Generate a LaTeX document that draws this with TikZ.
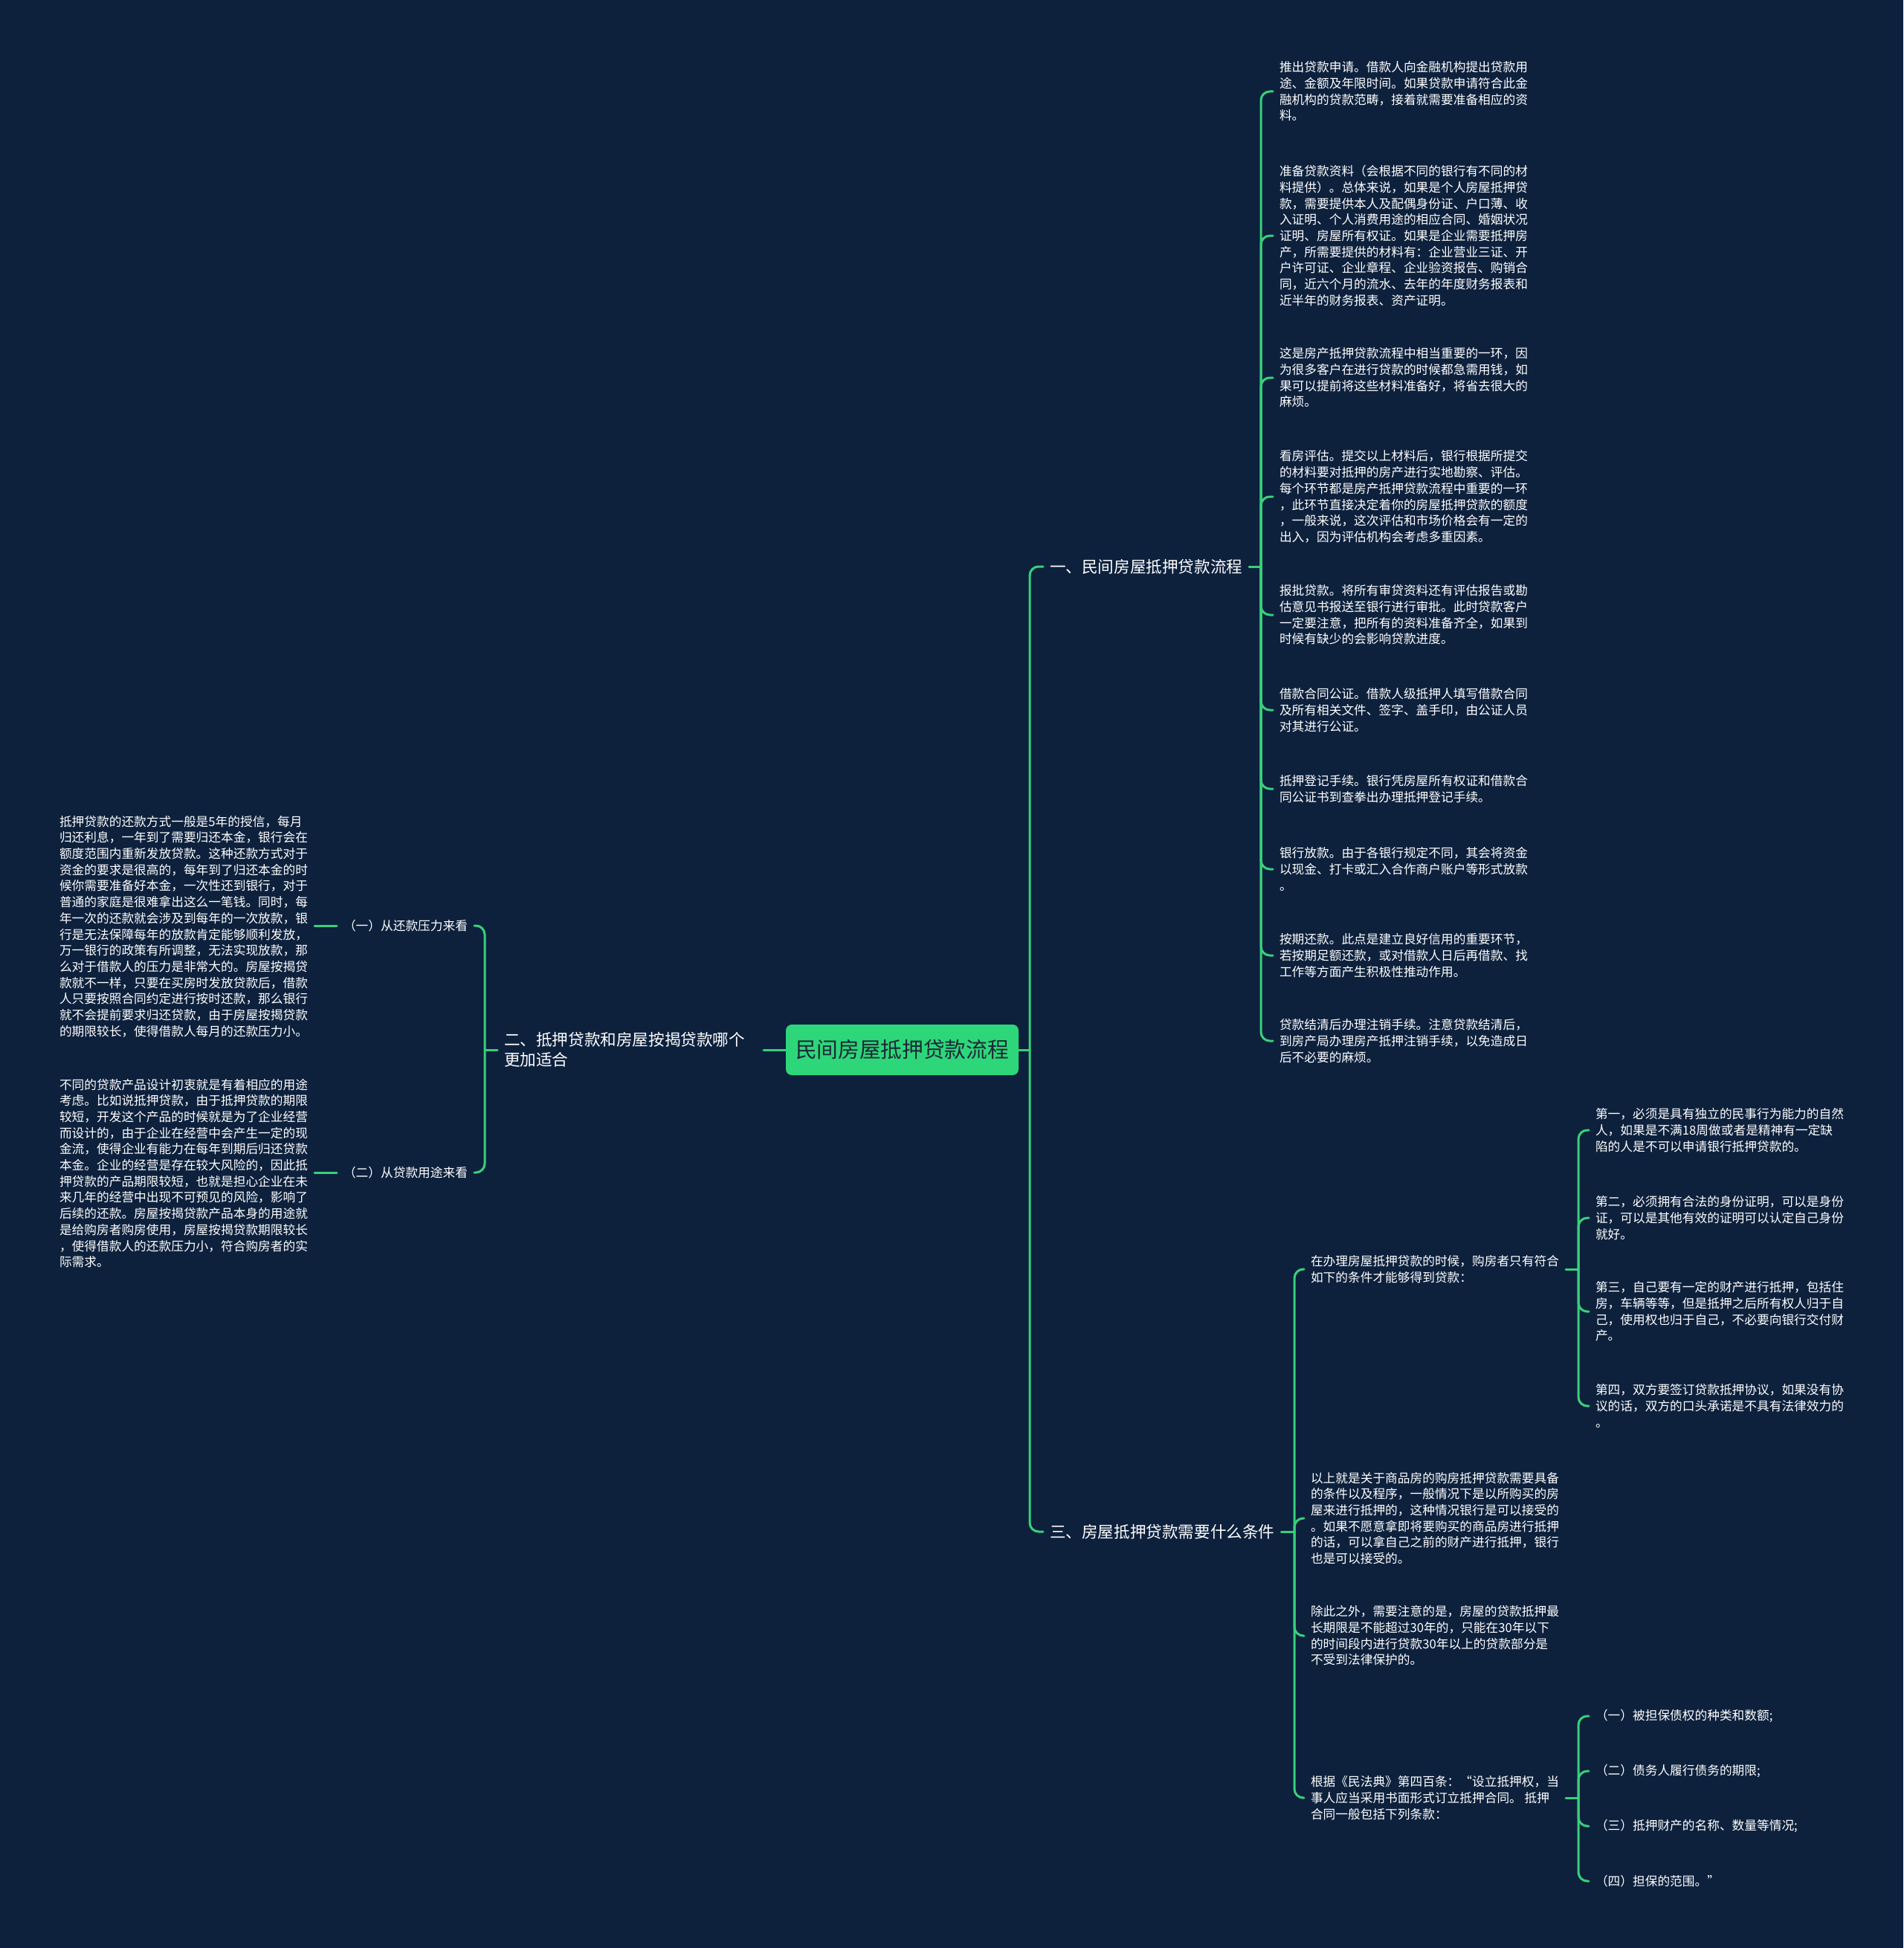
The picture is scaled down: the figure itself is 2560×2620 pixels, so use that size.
\documentclass[tikz,border=0pt]{standalone}
\usepackage{fontspec}
\setmainfont{Noto Sans CJK SC}
\usetikzlibrary{calc}
\definecolor{bg}{HTML}{0D213D}
\definecolor{gr}{HTML}{38D07A}
\definecolor{rootfill}{HTML}{2ED67A}
\definecolor{roottext}{HTML}{1A2836}
\begin{document}
\begin{tikzpicture}[x=1pt,y=-1pt,
  link/.style={draw=gr, line width=3pt, rounded corners=12pt, line cap=round},
  leaf/.style={text=white, font=\fontsize{16.7}{21.7}\selectfont, align=left, inner sep=0pt, outer xsep=9pt, anchor=west},
  leafl/.style={leaf, anchor=east},
  mainb/.style={text=white, font=\fontsize{21.6}{27}\selectfont, align=left, inner sep=0pt, outer xsep=9pt, anchor=west},
  rootbox/.style={fill=rootfill, rounded corners=8pt, text=roottext, font=\fontsize{28.7}{30}\selectfont, minimum width=313pt, minimum height=68pt, inner sep=0pt},
]
\useasboundingbox (0,0) rectangle (2560,2620);
\fill[bg] (0,0) rectangle (2560,2620);

% root
\node[rootbox] (root) at (1213.5,1412) {民间房屋抵押贷款流程};

% main branches
\node[mainb] (b1) at (1403,762) {一、民间房屋抵押贷款流程};
\node[mainb] (b3) at (1403,2060) {三、房屋抵押贷款需要什么条件};
\node[mainb, text width=340pt] (b2) at (669,1412) {二、抵押贷款和房屋按揭贷款哪个\\更加适合};

% branch 1 items
\node[leaf] (a1) at (1712,123) {推出贷款申请。借款人向金融机构提出贷款用\\途、金额及年限时间。如果贷款申请符合此金\\融机构的贷款范畴，接着就需要准备相应的资\\料。};
\node[leaf] (a2) at (1712,317) {准备贷款资料（会根据不同的银行有不同的材\\料提供）。总体来说，如果是个人房屋抵押贷\\款，需要提供本人及配偶身份证、户口薄、收\\入证明、个人消费用途的相应合同、婚姻状况\\证明、房屋所有权证。如果是企业需要抵押房\\产，所需要提供的材料有：企业营业三证、开\\户许可证、企业章程、企业验资报告、购销合\\同，近六个月的流水、去年的年度财务报表和\\近半年的财务报表、资产证明。};
\node[leaf] (a3) at (1712,508) {这是房产抵押贷款流程中相当重要的一环，因\\为很多客户在进行贷款的时候都急需用钱，如\\果可以提前将这些材料准备好，将省去很大的\\麻烦。};
\node[leaf] (a4) at (1712,668) {看房评估。提交以上材料后，银行根据所提交\\的材料要对抵押的房产进行实地勘察、评估。\\每个环节都是房产抵押贷款流程中重要的一环\\，此环节直接决定着你的房屋抵押贷款的额度\\，一般来说，这次评估和市场价格会有一定的\\出入，因为评估机构会考虑多重因素。};
\node[leaf] (a5) at (1712,827) {报批贷款。将所有审贷资料还有评估报告或勘\\估意见书报送至银行进行审批。此时贷款客户\\一定要注意，把所有的资料准备齐全，如果到\\时候有缺少的会影响贷款进度。};
\node[leaf] (a6) at (1712,955) {借款合同公证。借款人级抵押人填写借款合同\\及所有相关文件、签字、盖手印，由公证人员\\对其进行公证。};
\node[leaf] (a7) at (1712,1061) {抵押登记手续。银行凭房屋所有权证和借款合\\同公证书到查拳出办理抵押登记手续。};
\node[leaf] (a8) at (1712,1169) {银行放款。由于各银行规定不同，其会将资金\\以现金、打卡或汇入合作商户账户等形式放款\\。};
\node[leaf] (a9) at (1712,1285) {按期还款。此点是建立良好信用的重要环节，\\若按期足额还款，或对借款人日后再借款、找\\工作等方面产生积极性推动作用。};
\node[leaf] (a10) at (1712,1400) {贷款结清后办理注销手续。注意贷款结清后，\\到房产局办理房产抵押注销手续，以免造成日\\后不必要的麻烦。};

% branch 3 items
\node[leaf] (c1) at (1754,1707) {在办理房屋抵押贷款的时候，购房者只有符合\\如下的条件才能够得到贷款：};
\node[leaf] (c2) at (1754,2042) {以上就是关于商品房的购房抵押贷款需要具备\\的条件以及程序，一般情况下是以所购买的房\\屋来进行抵押的，这种情况银行是可以接受的\\。如果不愿意拿即将要购买的商品房进行抵押\\的话，可以拿自己之前的财产进行抵押，银行\\也是可以接受的。};
\node[leaf] (c3) at (1754,2200) {除此之外，需要注意的是，房屋的贷款抵押最\\长期限是不能超过30年的，只能在30年以下\\的时间段内进行贷款30年以上的贷款部分是\\不受到法律保护的。};
\node[leaf] (c4) at (1754,2418) {根据《民法典》第四百条：“设立抵押权，当\\事人应当采用书面形式订立抵押合同。 抵押\\合同一般包括下列条款：};

\node[leaf] (e1) at (2137,1520) {第一，必须是具有独立的民事行为能力的自然\\人，如果是不满18周做或者是精神有一定缺\\陷的人是不可以申请银行抵押贷款的。};
\node[leaf] (e2) at (2137,1638) {第二，必须拥有合法的身份证明，可以是身份\\证，可以是其他有效的证明可以认定自己身份\\就好。};
\node[leaf] (e3) at (2137,1764) {第三，自己要有一定的财产进行抵押，包括住\\房，车辆等等，但是抵押之后所有权人归于自\\己，使用权也归于自己，不必要向银行交付财\\产。};
\node[leaf] (e4) at (2137,1891) {第四，双方要签订贷款抵押协议，如果没有协\\议的话，双方的口头承诺是不具有法律效力的\\。};

\node[leaf] (d1) at (2137,2308) {（一）被担保债权的种类和数额;};
\node[leaf] (d2) at (2137,2382) {（二）债务人履行债务的期限;};
\node[leaf] (d3) at (2137,2456) {（三）抵押财产的名称、数量等情况;};
\node[leaf] (d4) at (2137,2530) {（四）担保的范围。”};

% branch 2 items
\node[leafl] (k1) at (638,1245) {（一）从还款压力来看};
\node[leafl] (k2) at (638,1577) {（二）从贷款用途来看};
\node[leafl] (l1) at (423,1246) {抵押贷款的还款方式一般是5年的授信，每月\\归还利息，一年到了需要归还本金，银行会在\\额度范围内重新发放贷款。这种还款方式对于\\资金的要求是很高的，每年到了归还本金的时\\候你需要准备好本金，一次性还到银行，对于\\普通的家庭是很难拿出这么一笔钱。同时，每\\年一次的还款就会涉及到每年的一次放款，银\\行是无法保障每年的放款肯定能够顺利发放，\\万一银行的政策有所调整，无法实现放款，那\\么对于借款人的压力是非常大的。房屋按揭贷\\款就不一样，只要在买房时发放贷款后，借款\\人只要按照合同约定进行按时还款，那么银行\\就不会提前要求归还贷款，由于房屋按揭贷款\\的期限较长，使得借款人每月的还款压力小。};
\node[leafl] (l2) at (423,1578) {不同的贷款产品设计初衷就是有着相应的用途\\考虑。比如说抵押贷款，由于抵押贷款的期限\\较短，开发这个产品的时候就是为了企业经营\\而设计的，由于企业在经营中会产生一定的现\\金流，使得企业有能力在每年到期后归还贷款\\本金。企业的经营是存在较大风险的，因此抵\\押贷款的产品期限较短，也就是担心企业在未\\来几年的经营中出现不可预见的风险，影响了\\后续的还款。房屋按揭贷款产品本身的用途就\\是给购房者购房使用，房屋按揭贷款期限较长\\，使得借款人的还款压力小，符合购房者的实\\际需求。};

% junction coordinates
\coordinate (v0) at (1385,1412);
\coordinate (v1) at (1696,762);
\coordinate (v3) at (1741,2060);
\coordinate (vc1) at (2123,1707);
\coordinate (vc4) at (2123,2418);
\coordinate (v2) at (652,1412);

% connectors right
\draw[link] (root.east) -- (v0);
\draw[link] (v0) -- (v0 |- b1.west) -- (b1.west);
\draw[link] (v0) -- (v0 |- b3.west) -- (b3.west);

\draw[link] (b1.east) -- (v1);
\foreach \i in {1,...,10} {
  \draw[link] (v1) -- (v1 |- a\i.west) -- (a\i.west);
}
\draw[link] (b3.east) -- (v3);
\foreach \i in {1,...,4} {
  \draw[link] (v3) -- (v3 |- c\i.west) -- (c\i.west);
}
\draw[link] (c1.east |- vc1) -- (vc1);
\foreach \i in {1,...,4} {
  \draw[link] (vc1) -- (vc1 |- e\i.west) -- (e\i.west);
}
\draw[link] (c4.east |- vc4) -- (vc4);
\foreach \i in {1,...,4} {
  \draw[link] (vc4) -- (vc4 |- d\i.west) -- (d\i.west);
}

% connectors left
\draw[link] (root.west) -- (b2.east);
\draw[link] (b2.west) -- (v2);
\draw[link] (v2) -- (v2 |- k1.east) -- (k1.east);
\draw[link] (v2) -- (v2 |- k2.east) -- (k2.east);
\draw[link] (k1.west) -- (l1.east |- k1.west);
\draw[link] (k2.west) -- (l2.east |- k2.west);
\end{tikzpicture}
\end{document}
